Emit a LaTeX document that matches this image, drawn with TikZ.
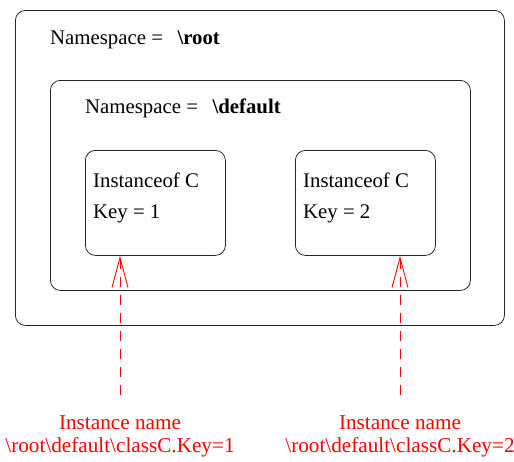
\documentclass[tikz,border=0pt]{standalone}
\usepackage{fontspec}
\setmainfont{Liberation Serif}
\usetikzlibrary{arrows.meta}
\begin{document}
\begin{tikzpicture}[x=1pt,y=-1pt,
  box/.style={draw=black!85,line width=0.8pt,rounded corners=10pt,anchor=north west,inner sep=0pt},
  txt/.style={anchor=west,inner sep=0pt,font=\fontsize{20.8}{24}\selectfont},
  red/.style={text=red,inner sep=0pt,font=\fontsize{21.2}{24}\selectfont},
  ptr/.style={draw=red,line width=0.9pt,dash pattern=on 10pt off 8pt,-{Straight Barb[length=30pt,width=16pt,line width=0.9pt]}}]
\useasboundingbox (0,0) rectangle (514,461);
\node[box,minimum width=489pt,minimum height=315pt] (outer) at (15,10) {};
\node[box,minimum width=420pt,minimum height=210pt] (mid) at (50,80) {};
\node[box,minimum width=140pt,minimum height=105pt] (b1) at (85,150) {};
\node[box,minimum width=140pt,minimum height=105pt] (b2) at (295,150) {};
\node[txt] (t1) at (50,40) {Namespace =\hspace{0.7em}\textbf{\textbackslash root}};
\node[txt] (t2) at (85,108) {Namespace =\hspace{0.7em}\textbf{\textbackslash default}};
\node[txt] (k1a) at (93,180) {Instanceof C};
\node[txt] (k1b) at (93,214) {Key = 1};
\node[txt] (k2a) at (303,180) {Instanceof C};
\node[txt] (k2b) at (303,214) {Key = 2};
\node[red] (r1a) at (120,423) {Instance name};
\node[red] (r1b) at (120,447) {\textbackslash root\textbackslash default\textbackslash classC.Key=1};
\node[red] (r2a) at (400,423) {Instance name};
\node[red] (r2b) at (400,447) {\textbackslash root\textbackslash default\textbackslash classC.Key=2};
\coordinate (s1) at (120,395);
\coordinate (s2) at (400,395);
\draw[ptr] (s1) -- (b1.south -| s1);
\draw[ptr] (s2) -- (b2.south -| s2);
\end{tikzpicture}
\end{document}
